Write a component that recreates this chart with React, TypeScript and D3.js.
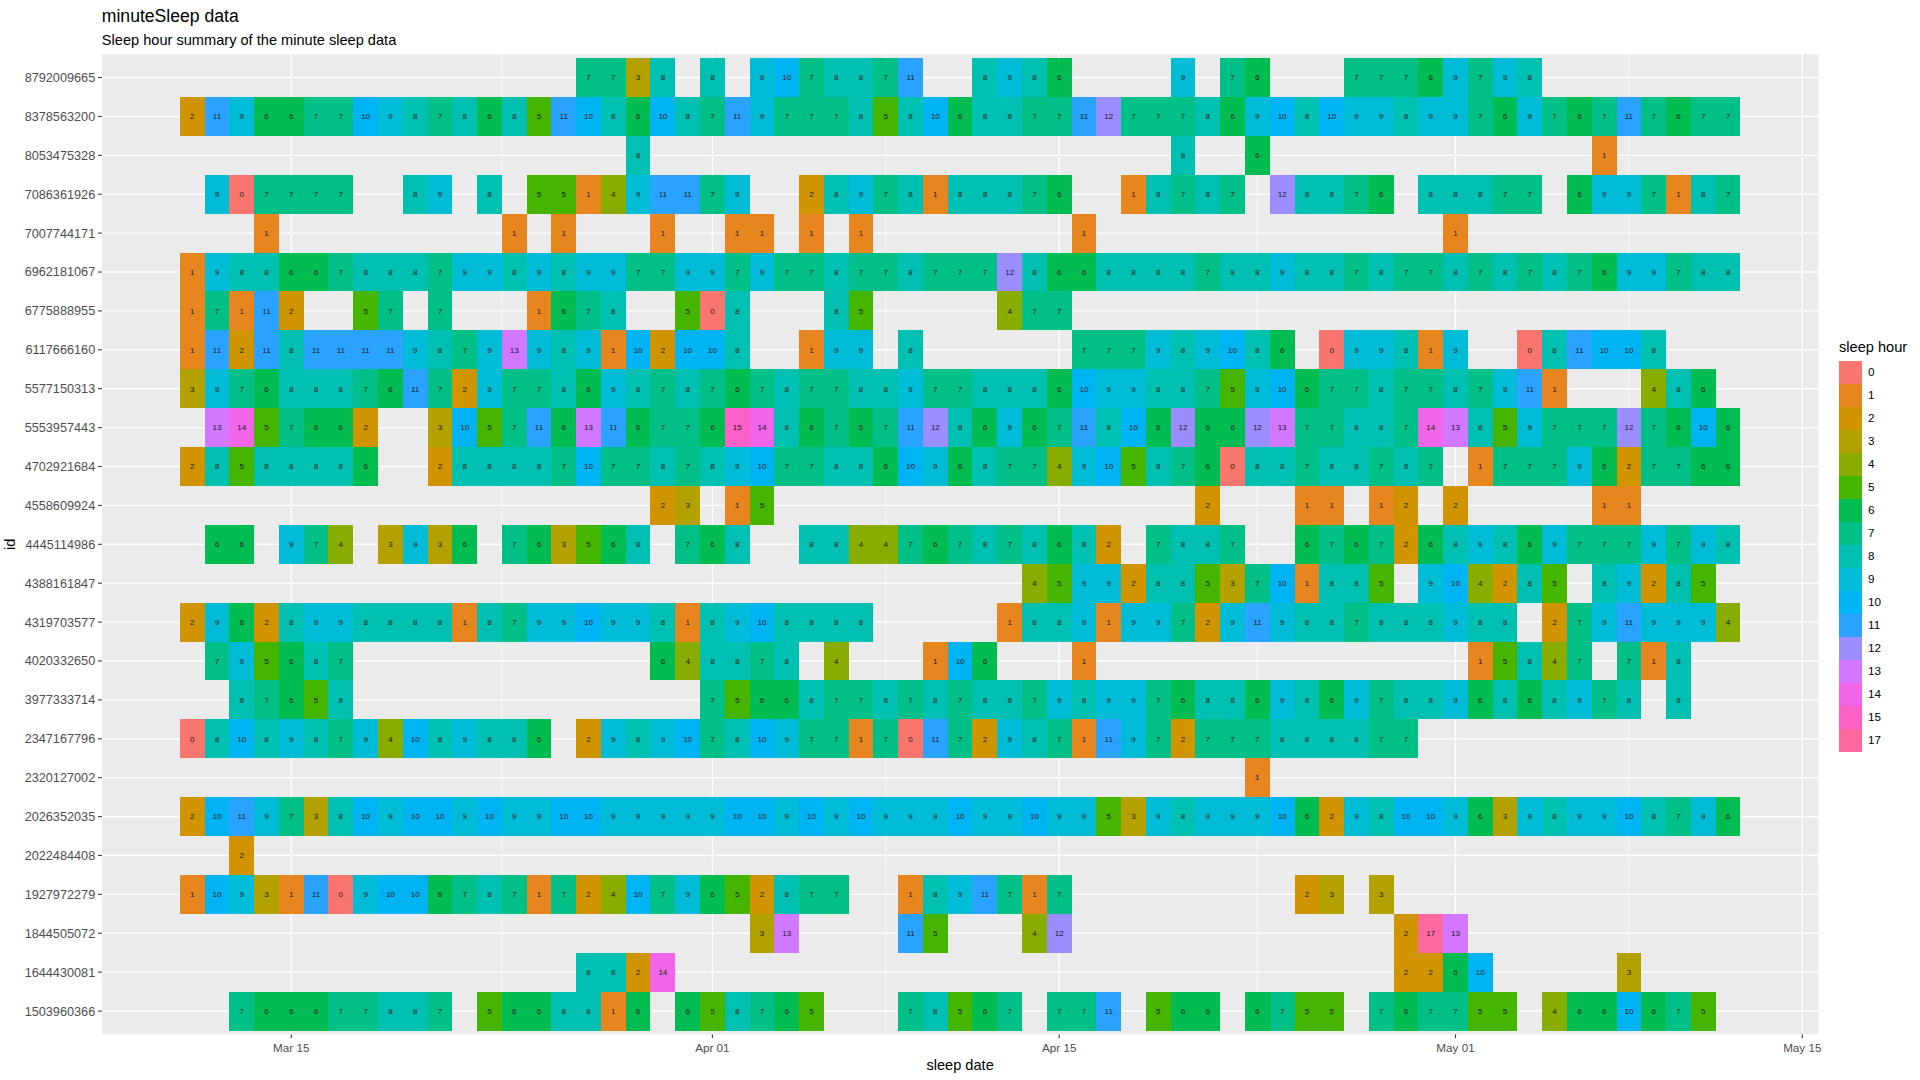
import * as d3 from "d3";

// ── Data ──────────────────────────────────────────────────
// one column per day, first column is 2016-03-11, null = no record
const _ = null;
const FIRST_DAY = Date.UTC(2016, 2, 11);
const DAY = 86400000;
const N_DAYS = 63;

const ids = [
  "8792009665", "8378563200", "8053475328", "7086361926", "7007744171",
  "6962181067", "6775888955", "6117666160", "5577150313", "5553957443",
  "4702921684", "4558609924", "4445114986", "4388161847", "4319703577",
  "4020332650", "3977333714", "2347167796", "2320127002", "2026352035",
  "2022484408", "1927972279", "1844505072", "1644430081", "1503960366",
];

const h8792009665 = [
  _, _, _, _, _, _, _, _, _, _,
  _, _, _, _, _, _, 7, 7, 3, 8,
  _, 8, _, 9, 10, 7, 8, 8, 7, 11,
  _, _, 8, 9, 8, 6, _, _, _, _,
  9, _, 7, 6, _, _, _, 7, 7, 7,
  6, 9, 7, 9, 8, _, _, _, _, _,
  _, _, _,
];
const h8378563200 = [
  2, 11, 9, 6, 6, 7, 7, 10, 9, 8,
  7, 8, 6, 8, 5, 11, 10, 8, 6, 10,
  8, 7, 11, 9, 7, 7, 7, 8, 5, 8,
  10, 6, 8, 8, 7, 7, 11, 12, 7, 7,
  7, 8, 6, 9, 10, 8, 10, 9, 9, 8,
  9, 9, 7, 6, 9, 7, 6, 7, 11, 7,
  6, 7, 7,
];
const h8053475328 = [
  _, _, _, _, _, _, _, _, _, _,
  _, _, _, _, _, _, _, _, 8, _,
  _, _, _, _, _, _, _, _, _, _,
  _, _, _, _, _, _, _, _, _, _,
  8, _, _, 6, _, _, _, _, _, _,
  _, _, _, _, _, _, _, 1, _, _,
  _, _, _,
];
const h7086361926 = [
  _, 9, 0, 7, 7, 7, 7, _, _, 8,
  9, _, 8, _, 5, 5, 1, 4, 9, 11,
  11, 7, 9, _, _, 2, 8, 9, 7, 8,
  1, 8, 8, 8, 7, 6, _, _, 1, 8,
  7, 8, 7, _, 12, 8, 8, 7, 6, _,
  8, 8, 8, 7, 7, _, 6, 9, 9, 7,
  1, 8, 7,
];
const h7007744171 = [
  _, _, _, 1, _, _, _, _, _, _,
  _, _, _, 1, _, 1, _, _, _, 1,
  _, _, 1, 1, _, 1, _, 1, _, _,
  _, _, _, _, _, _, 1, _, _, _,
  _, _, _, _, _, _, _, _, _, _,
  _, 1, _, _, _, _, _, _, _, _,
  _, _, _,
];
const h6962181067 = [
  1, 9, 8, 8, 6, 6, 7, 8, 8, 8,
  7, 9, 9, 8, 9, 8, 9, 9, 7, 7,
  9, 9, 7, 9, 7, 7, 8, 7, 7, 8,
  7, 7, 7, 12, 8, 6, 6, 8, 8, 8,
  8, 7, 8, 8, 9, 8, 8, 7, 8, 7,
  7, 8, 7, 8, 7, 8, 7, 6, 9, 9,
  7, 8, 8,
];
const h6775888955 = [
  1, 7, 1, 11, 2, _, _, 5, 7, _,
  7, _, _, _, 1, 6, 7, 8, _, _,
  5, 0, 8, _, _, _, 8, 5, _, _,
  _, _, _, 4, 7, 7, _, _, _, _,
  _, _, _, _, _, _, _, _, _, _,
  _, _, _, _, _, _, _, _, _, _,
  _, _, _,
];
const h6117666160 = [
  1, 11, 2, 11, 8, 11, 11, 11, 11, 9,
  8, 7, 9, 13, 9, 8, 9, 1, 10, 2,
  10, 10, 8, _, _, 1, 9, 9, _, 8,
  _, _, _, _, _, _, 7, 7, 7, 9,
  8, 9, 10, 8, 6, _, 0, 9, 9, 8,
  1, 9, _, _, 0, 8, 11, 10, 10, 8,
  _, _, _,
];
const h5577150313 = [
  3, 9, 7, 6, 8, 8, 8, 7, 6, 11,
  7, 2, 9, 7, 7, 8, 6, 9, 8, 7,
  8, 7, 6, 7, 8, 7, 7, 8, 8, 9,
  7, 7, 8, 8, 8, 6, 10, 9, 9, 8,
  8, 7, 5, 9, 10, 6, 7, 7, 8, 7,
  7, 8, 7, 9, 11, 1, _, _, _, 4,
  8, 6, _,
];
const h5553957443 = [
  _, 13, 14, 5, 7, 6, 6, 2, _, _,
  3, 10, 5, 7, 11, 6, 13, 11, 6, 7,
  7, 6, 15, 14, 8, 6, 7, 6, 7, 11,
  12, 8, 6, 9, 6, 7, 11, 8, 10, 6,
  12, 6, 6, 12, 13, 7, 7, 8, 8, 7,
  14, 13, 8, 5, 9, 7, 7, 7, 12, 7,
  6, 10, 6,
];
const h4702921684 = [
  2, 8, 5, 8, 8, 8, 8, 6, _, _,
  2, 8, 8, 8, 8, 7, 10, 7, 7, 8,
  7, 8, 9, 10, 7, 7, 8, 8, 6, 10,
  9, 6, 8, 7, 7, 4, 9, 10, 5, 8,
  7, 6, 0, 8, 8, 7, 8, 8, 7, 8,
  7, _, 1, 7, 7, 7, 9, 6, 2, 7,
  7, 6, 6,
];
const h4558609924 = [
  _, _, _, _, _, _, _, _, _, _,
  _, _, _, _, _, _, _, _, _, 2,
  3, _, 1, 5, _, _, _, _, _, _,
  _, _, _, _, _, _, _, _, _, _,
  _, 2, _, _, _, 1, 1, _, 1, 2,
  _, 2, _, _, _, _, _, 1, 1, _,
  _, _, _,
];
const h4445114986 = [
  _, 6, 6, _, 9, 7, 4, _, 3, 9,
  3, 6, _, 7, 6, 3, 5, 6, 8, _,
  7, 6, 8, _, _, 8, 8, 4, 4, 7,
  6, 7, 8, 7, 8, 6, 8, 2, _, 7,
  8, 8, 7, _, _, 6, 7, 6, 7, 2,
  6, 8, 9, 8, 6, 9, 7, 7, 7, 9,
  7, 9, 8,
];
const h4388161847 = [
  _, _, _, _, _, _, _, _, _, _,
  _, _, _, _, _, _, _, _, _, _,
  _, _, _, _, _, _, _, _, _, _,
  _, _, _, _, 4, 5, 9, 9, 2, 8,
  8, 5, 3, 7, 10, 1, 8, 8, 5, _,
  9, 10, 4, 2, 8, 5, _, 8, 9, 2,
  8, 5, _,
];
const h4319703577 = [
  2, 9, 6, 2, 8, 9, 9, 8, 8, 8,
  8, 1, 8, 7, 9, 9, 10, 9, 9, 8,
  1, 8, 9, 10, 8, 8, 8, 8, _, _,
  _, _, _, 1, 8, 8, 9, 1, 9, 9,
  7, 2, 9, 11, 9, 8, 8, 7, 8, 8,
  8, 9, 8, 8, _, 2, 7, 9, 11, 9,
  9, 9, 4,
];
const h4020332650 = [
  _, 7, 9, 5, 6, 8, 7, _, _, _,
  _, _, _, _, _, _, _, _, _, 6,
  4, 8, 8, 7, 8, _, 4, _, _, _,
  1, 10, 6, _, _, _, 1, _, _, _,
  _, _, _, _, _, _, _, _, _, _,
  _, _, 1, 5, 8, 4, 7, _, 7, 1,
  8, _, _,
];
const h3977333714 = [
  _, _, 8, 7, 6, 5, 8, _, _, _,
  _, _, _, _, _, _, _, _, _, _,
  _, 7, 5, 6, 6, 8, 7, 7, 8, 7,
  8, 7, 8, 8, 7, 9, 8, 9, 9, 7,
  6, 8, 8, 6, 9, 8, 6, 9, 7, 8,
  8, 9, 6, 8, 6, 8, 9, 7, 8, _,
  8, _, _,
];
const h2347167796 = [
  0, 8, 10, 8, 9, 8, 7, 9, 4, 10,
  8, 9, 8, 8, 6, _, 2, 9, 8, 9,
  10, 7, 8, 10, 9, 7, 7, 1, 7, 0,
  11, 7, 2, 9, 8, 7, 1, 11, 9, 7,
  2, 7, 7, 7, 8, 8, 8, 8, 7, 7,
  _, _, _, _, _, _, _, _, _, _,
  _, _, _,
];
const h2320127002 = [
  _, _, _, _, _, _, _, _, _, _,
  _, _, _, _, _, _, _, _, _, _,
  _, _, _, _, _, _, _, _, _, _,
  _, _, _, _, _, _, _, _, _, _,
  _, _, _, 1, _, _, _, _, _, _,
  _, _, _, _, _, _, _, _, _, _,
  _, _, _,
];
const h2026352035 = [
  2, 10, 11, 9, 7, 3, 8, 10, 9, 10,
  10, 9, 10, 9, 9, 10, 10, 9, 9, 9,
  9, 9, 10, 10, 9, 10, 9, 10, 9, 9,
  9, 10, 9, 9, 10, 9, 9, 5, 3, 9,
  8, 9, 9, 9, 10, 6, 2, 9, 8, 10,
  10, 9, 6, 3, 9, 8, 9, 9, 10, 8,
  7, 9, 6,
];
const h2022484408 = [
  _, _, 2, _, _, _, _, _, _, _,
  _, _, _, _, _, _, _, _, _, _,
  _, _, _, _, _, _, _, _, _, _,
  _, _, _, _, _, _, _, _, _, _,
  _, _, _, _, _, _, _, _, _, _,
  _, _, _, _, _, _, _, _, _, _,
  _, _, _,
];
const h1927972279 = [
  1, 10, 9, 3, 1, 11, 0, 9, 10, 10,
  6, 7, 8, 7, 1, 7, 2, 4, 10, 7,
  9, 6, 5, 2, 8, 7, 7, _, _, 1,
  8, 9, 11, 7, 1, 7, _, _, _, _,
  _, _, _, _, _, 2, 3, _, 3, _,
  _, _, _, _, _, _, _, _, _, _,
  _, _, _,
];
const h1844505072 = [
  _, _, _, _, _, _, _, _, _, _,
  _, _, _, _, _, _, _, _, _, _,
  _, _, _, 3, 13, _, _, _, _, 11,
  5, _, _, _, 4, 12, _, _, _, _,
  _, _, _, _, _, _, _, _, _, 2,
  17, 13, _, _, _, _, _, _, _, _,
  _, _, _,
];
const h1644430081 = [
  _, _, _, _, _, _, _, _, _, _,
  _, _, _, _, _, _, 8, 8, 2, 14,
  _, _, _, _, _, _, _, _, _, _,
  _, _, _, _, _, _, _, _, _, _,
  _, _, _, _, _, _, _, _, _, 2,
  2, 6, 10, _, _, _, _, _, 3, _,
  _, _, _,
];
const h1503960366 = [
  _, _, 7, 6, 6, 6, 7, 7, 8, 8,
  7, _, 5, 6, 6, 8, 8, 1, 6, _,
  6, 5, 8, 7, 6, 5, _, _, _, 7,
  8, 5, 6, 7, _, 7, 7, 11, _, 5,
  6, 6, _, 6, 7, 5, 5, _, 7, 6,
  7, 7, 5, 5, _, 4, 6, 6, 10, 6,
  7, 5, _,
];

const hours = [
  h8792009665, h8378563200, h8053475328, h7086361926, h7007744171,
  h6962181067, h6775888955, h6117666160, h5577150313, h5553957443,
  h4702921684, h4558609924, h4445114986, h4388161847, h4319703577,
  h4020332650, h3977333714, h2347167796, h2320127002, h2026352035,
  h2022484408, h1927972279, h1844505072, h1644430081, h1503960366,
];

const hourLevels = [0, 1, 2, 3, 4, 5, 6, 7, 8, 9, 10, 11, 12, 13, 14, 15, 17];

const xBreaks = [
  Date.UTC(2016, 2, 15), Date.UTC(2016, 3, 1), Date.UTC(2016, 3, 15),
  Date.UTC(2016, 4, 1), Date.UTC(2016, 4, 15),
];
const xBreakLabels = ["Mar 15", "Apr 01", "Apr 15", "May 01", "May 15"];

// ── Layout ────────────────────────────────────────────────
const W = 1920;
const H = 1080;
const P = { left: 101.8, right: 1818.4, top: 54.2, bottom: 1034.4 };
const FONT = "'Liberation Sans', Arial, Helvetica, sans-serif";
const KEY = 23;
const LEG_X = 1839;
const LEG_Y = 360.5;

// ── Helpers ───────────────────────────────────────────────
// grDevices::hcl (polar Luv) -> hex, like ggplot's default hue palette
function hcl(h: number, c: number, l: number) {
  const hr = (h * Math.PI) / 180;
  const U = c * Math.cos(hr);
  const V = c * Math.sin(hr);
  const Y = 100 * (l > 7.999592 ? Math.pow((l + 16) / 116, 3) : l / 903.3);
  const u = U / (13 * l) + 0.1978398;
  const v = V / (13 * l) + 0.4683363;
  const X = (9 * Y * u) / (4 * v);
  const Z = -X / 3 - 5 * Y + (3 * Y) / v;
  const g = (t: number) => {
    t = t / 100;
    const s = t > 0.00304 ? 1.055 * Math.pow(t, 1 / 2.4) - 0.055 : 12.92 * t;
    return Math.round(255 * Math.max(0, Math.min(1, s)));
  };
  const r = g(3.240479 * X - 1.53715 * Y - 0.498535 * Z);
  const gg = g(-0.969256 * X + 1.875992 * Y + 0.041556 * Z);
  const b = g(0.055648 * X - 0.204043 * Y + 1.057311 * Z);
  return d3.rgb(r, gg, b).formatHex();
}

const colour = d3
  .scaleOrdinal<number, string>()
  .domain(hourLevels)
  .range(hourLevels.map((lv, i) => hcl(15 + (i * 360) / hourLevels.length, 100, 65)));

const lo = FIRST_DAY - DAY / 2;
const hi = FIRST_DAY + (N_DAYS - 0.5) * DAY;
const pad = (hi - lo) * 0.05;

const x = d3.scaleUtc().domain([lo - pad, hi + pad]).range([P.left, P.right]);
const y = d3
  .scaleBand<string>()
  .domain(ids)
  .range([P.top, P.bottom])
  .paddingInner(0)
  .paddingOuter(0.1);

const minorBreaks = d3.pairs(xBreaks).map(([a, b]) => (a + b) / 2);

type Cell = { id: string; day: number; v: number };
const cells: Cell[] = [];
ids.forEach((id, r) => {
  hours[r].forEach((v, c) => {
    if (v !== null) cells.push({ id, day: FIRST_DAY + c * DAY, v });
  });
});

export default function App() {
  const bw = y.bandwidth();
  return (
    <svg
      width={W}
      height={H}
      viewBox={`0 0 ${W} ${H}`}
      style={{ position: "absolute", left: 0, top: 0, display: "block", background: "#fff" }}
      fontFamily={FONT}
    >
      <rect x={0} y={0} width={W} height={H} fill="#fff" />

      {/* ── Title ── */}
      <text x={P.left} y={22} fontSize={17.6} fill="#000">minuteSleep data</text>
      <text x={P.left} y={45} fontSize={14.6} fill="#000">
        Sleep hour summary of the minute sleep data
      </text>

      {/* ── Panel ── */}
      <rect x={P.left} y={P.top} width={P.right - P.left} height={P.bottom - P.top} fill="#EBEBEB" />
      {minorBreaks.map(t => (
        <line key={"mn" + t} x1={x(t)} x2={x(t)} y1={P.top} y2={P.bottom}
          stroke="#fff" strokeWidth={0.7} />
      ))}
      {xBreaks.map(t => (
        <line key={"mj" + t} x1={x(t)} x2={x(t)} y1={P.top} y2={P.bottom}
          stroke="#fff" strokeWidth={1.4} />
      ))}
      {ids.map(id => (
        <line key={"hy" + id} x1={P.left} x2={P.right}
          y1={y(id)! + bw / 2} y2={y(id)! + bw / 2}
          stroke="#fff" strokeWidth={1.4} />
      ))}

      {/* ── Tiles ── */}
      {cells.map((d, i) => {
        const x0 = x(d.day - DAY / 2);
        const x1 = x(d.day + DAY / 2);
        return (
          <rect key={"t" + i} x={x0} y={y(d.id)!} width={x1 - x0} height={bw}
            fill={colour(d.v)} shapeRendering="crispEdges" />
        );
      })}
      {cells.map((d, i) => (
        <text key={"l" + i} x={x(d.day)} y={y(d.id)! + bw / 2} dy="0.35em"
          textAnchor="middle" fontSize={8} fill="#1a1a1a">
          {d.v}
        </text>
      ))}

      {/* ── Axes ── */}
      {xBreaks.map((t, i) => (
        <g key={"xt" + t}>
          <line x1={x(t)} x2={x(t)} y1={P.bottom} y2={P.bottom + 3.7}
            stroke="#333" strokeWidth={1.1} />
          <text x={x(t)} y={1052} textAnchor="middle" fontSize={11.7} fill="#4D4D4D">
            {xBreakLabels[i]}
          </text>
        </g>
      ))}
      {ids.map(id => (
        <g key={"yt" + id}>
          <line x1={P.left - 3.7} x2={P.left} y1={y(id)! + bw / 2} y2={y(id)! + bw / 2}
            stroke="#333" strokeWidth={1.1} />
          <text x={P.left - 6.6} y={y(id)! + bw / 2} dy="0.35em" textAnchor="end"
            fontSize={12.7} fill="#4D4D4D">
            {id}
          </text>
        </g>
      ))}
      <text x={(P.left + P.right) / 2} y={1070} textAnchor="middle" fontSize={14.6} fill="#000">
        sleep date
      </text>
      <text transform={`translate(15, ${(P.top + P.bottom) / 2}) rotate(-90)`}
        textAnchor="middle" fontSize={14.6} fill="#000">
        id
      </text>

      {/* ── Legend ── */}
      <text x={LEG_X} y={352} fontSize={14.6} fill="#000">sleep hour</text>
      {hourLevels.map((lv, i) => (
        <g key={"lg" + lv}>
          <rect x={LEG_X} y={LEG_Y + i * KEY} width={KEY} height={KEY}
            fill={colour(lv)} shapeRendering="crispEdges" />
          <text x={LEG_X + KEY + 6} y={LEG_Y + i * KEY + KEY / 2} dy="0.35em"
            fontSize={11.7} fill="#000">
            {lv}
          </text>
        </g>
      ))}
    </svg>
  );
}
